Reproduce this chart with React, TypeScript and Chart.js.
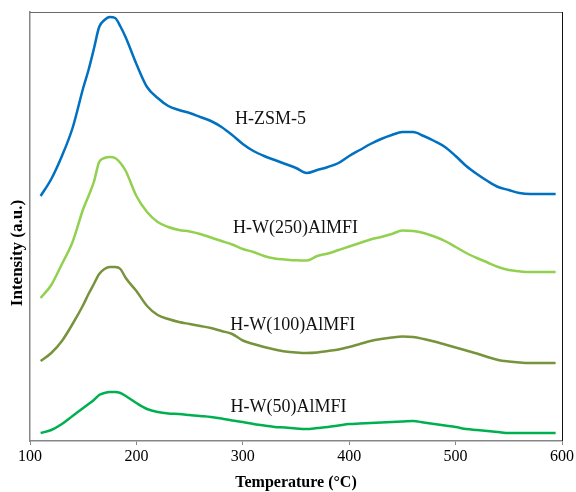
import React, { useEffect, useRef } from "react";
import { Chart, registerables } from "chart.js";

Chart.register(...registerables);

const temperatures = [110, 120, 130, 140, 150, 155, 160, 165, 170, 175, 180, 185, 190, 200, 210, 220, 230, 240, 250, 260, 270, 280, 290, 300, 310, 320, 330, 340, 350, 360, 370, 380, 390, 400, 410, 420, 430, 440, 450, 460, 470, 480, 490, 500, 510, 520, 530, 540, 550, 560, 570, 580, 594];

const hZsm5 = [245, 262, 285, 313, 353, 371, 392, 414, 421, 424, 423, 414.5, 403.5, 377, 354, 343, 335, 331, 328, 324, 320, 314, 306, 297, 290, 285, 281, 277, 273, 268, 271, 274, 278, 285, 291, 297, 302, 306, 309, 309, 305, 300, 294, 285, 275, 267, 260, 254, 251, 248, 247, 247, 247];

const hW250 = [143, 156, 177, 199, 232, 245, 259, 279, 283, 284, 283, 278, 270, 245, 229, 219, 214, 211, 209.5, 207, 203.5, 200, 196.5, 192, 189, 185, 182.5, 181.5, 180.7, 180.5, 185, 187.5, 191, 194.5, 198, 201.5, 204, 207, 210.5, 210, 208, 204.5, 200, 194, 188, 183, 178.5, 174, 171, 169.7, 169, 169, 169];

const hW100 = [80, 88, 100, 117, 136, 147, 157, 167, 172, 174, 174, 172, 163, 150, 135, 126, 122, 119, 117, 115, 113, 110, 107, 100.5, 97, 94, 91.5, 89.5, 88.5, 88, 88.5, 90, 91.5, 94, 97, 100, 102, 103.5, 104.5, 104, 102, 99.5, 96.5, 93.5, 90.5, 87.5, 84, 81, 79.5, 78.5, 78, 78, 78];

const hW50 = [8, 11, 17, 25, 33, 37, 41, 46, 48, 49, 49, 48, 45, 38, 32, 29, 27.5, 27, 26, 25, 24, 22.5, 20.5, 19, 17, 15.5, 14, 13.5, 12.5, 12, 13, 14, 15.5, 17, 17.5, 18, 18.5, 19, 19.5, 20, 18.5, 17, 15.5, 14, 12, 11, 10, 9, 8, 8, 8, 8, 8];

const seriesNames = ["H-ZSM-5", "H-W(250)AlMFI", "H-W(100)AlMFI", "H-W(50)AlMFI"];
const seriesColors = ["#0070C0", "#92D050", "#77933C", "#00B050"];
const labelTemps = [326, 349.5, 347, 343];
const labelLevels = [322, 213, 116, 34];

const xTicks = [100, 200, 300, 400, 500, 600];

const FONT = "'Liberation Serif', 'Times New Roman', serif";

export default function App() {
  const ref = useRef<HTMLCanvasElement | null>(null);

  useEffect(() => {
    if (!ref.current) return;
    const allSeries = [hZsm5, hW250, hW100, hW50];
    const labelPlugin = {
      id: "curveLabels",
      afterDatasetsDraw(chart: any) {
        const { ctx, scales, chartArea } = chart;
        ctx.save();
        ctx.lineWidth = 1;
        ctx.strokeStyle = "#6a6a6a";
        ctx.beginPath();
        ctx.moveTo(chartArea.left, chartArea.top + 0.5);
        ctx.lineTo(chartArea.right, chartArea.top + 0.5);
        ctx.stroke();
        ctx.strokeStyle = "#111111";
        ctx.beginPath();
        ctx.moveTo(chartArea.right + 0.5, chartArea.top);
        ctx.lineTo(chartArea.right + 0.5, chartArea.bottom);
        ctx.stroke();
        ctx.fillStyle = "#111111";
        ctx.font = `18px ${FONT}`;
        ctx.textAlign = "center";
        ctx.textBaseline = "middle";
        seriesNames.forEach((n, i) => {
          const x = scales.x.getPixelForValue(labelTemps[i]);
          const y = scales.y.getPixelForValue(labelLevels[i]);
          ctx.fillText(n, x, y);
        });
        ctx.translate(17.7, 253);
        ctx.rotate(-Math.PI / 2);
        ctx.font = `bold 17px ${FONT}`;
        ctx.fillStyle = "#000";
        ctx.fillText("Intensity (a.u.)", 0, 0);
        ctx.restore();
      },
    };
    const chart = new Chart(ref.current, {
      type: "line",
      data: {
        datasets: allSeries.map((s, i) => ({
          label: seriesNames[i],
          data: temperatures.map((t, j) => ({ x: t, y: s[j] })),
          borderColor: seriesColors[i],
          borderWidth: 2.5,
          pointRadius: 0,
          fill: false,
          cubicInterpolationMode: "monotone" as const,
        })),
      },
      options: {
        animation: false,
        responsive: false,
        maintainAspectRatio: false,
        layout: { padding: { top: 12, right: 14, left: 0, bottom: 0 } },
        plugins: { legend: { display: false }, tooltip: { enabled: false } },
        scales: {
          x: {
            type: "linear",
            min: 100,
            max: 600,
            afterBuildTicks: (scale: any) => {
              scale.ticks = xTicks.map((v) => ({ value: v }));
            },
            afterFit: (scale: any) => {
              scale.height = 51;
            },
            ticks: {
              color: "#000",
              font: { family: FONT, size: 16 },
              padding: 2,
            },
            grid: {
              drawOnChartArea: false,
              drawTicks: true,
              tickLength: 4,
              color: "#868686",
            },
            border: { display: true, color: "#868686", width: 1.5 },
            title: {
              display: true,
              text: "Temperature (°C)",
              color: "#000",
              font: { family: FONT, size: 16, weight: "bold" },
              padding: { top: 0, bottom: 0 },
            },
          },
          y: {
            min: 0,
            max: 429,
            afterFit: (scale: any) => {
              scale.width = 30;
            },
            ticks: { display: false },
            grid: { drawOnChartArea: false, drawTicks: false },
            border: { display: true, color: "#868686", width: 1.5 },
          },
        },
      },
      plugins: [labelPlugin],
    });
    return () => chart.destroy();
  }, []);

  return (
    <div style={{ position: "absolute", left: 0, top: 0, width: 576, height: 492, background: "#fff" }}>
      <canvas ref={ref} width={576} height={492} style={{ width: 576, height: 492 }} />
    </div>
  );
}
